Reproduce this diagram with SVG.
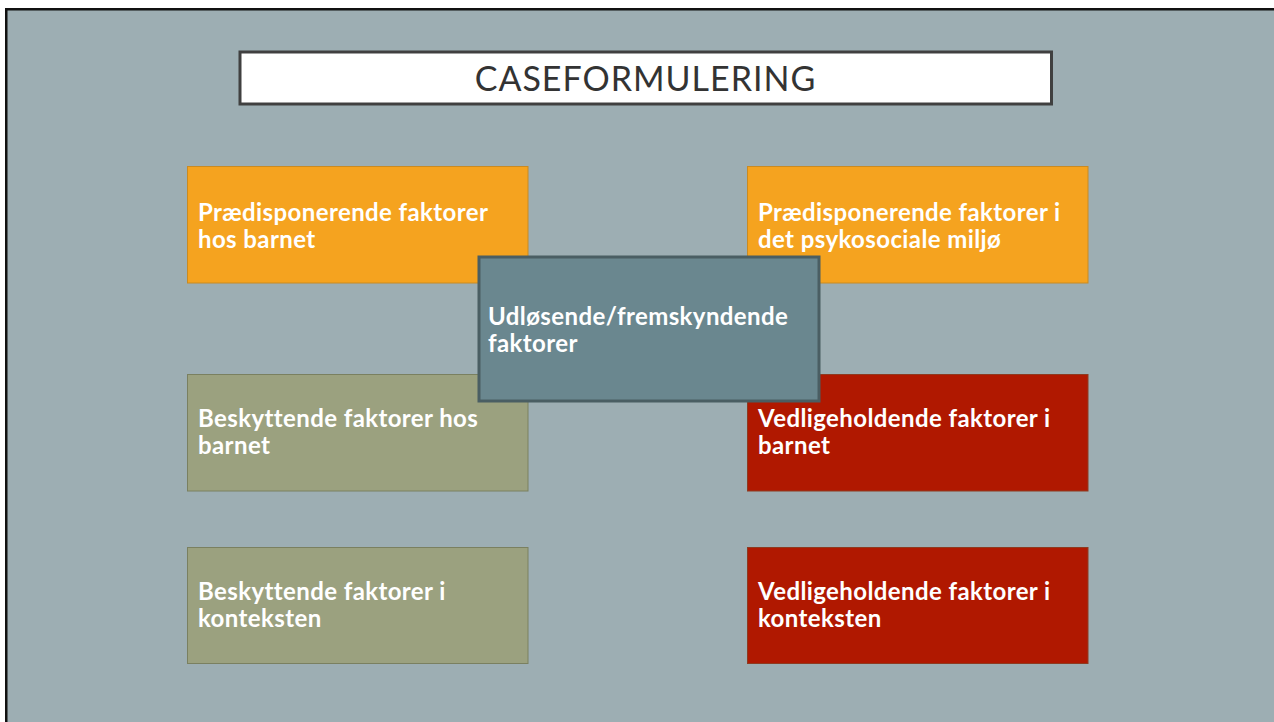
<svg xmlns="http://www.w3.org/2000/svg" width="1274" height="722" viewBox="0 0 1274 722">
<style>
.lbl{font-family:Lato,"Open Sans","Liberation Sans",sans-serif;font-weight:bold;font-size:24px;letter-spacing:0.4px;fill:#ffffff}
.orange{fill:#F5A31F;stroke:#C98A22;stroke-width:1}
.olive{fill:#9BA17F;stroke:#7A8060;stroke-width:1}
.red{fill:#B01800;stroke:#8E3A20;stroke-width:1}
</style>
<rect x="0" y="0" width="1274" height="722" fill="#ffffff"/>
<rect x="6.25" y="9.25" width="1280" height="730" fill="#9DAEB3" stroke="#111111" stroke-width="2.5"/>
<g id="title">
<rect x="240" y="52" width="811.5" height="52" fill="#ffffff" stroke="#404040" stroke-width="3"/>
<text x="645.5" y="90.5" text-anchor="middle" font-family="Lato,'Open Sans','Liberation Sans',sans-serif" font-size="34" fill="#333333" letter-spacing="1">CASEFORMULERING</text>
</g>
<g id="connectors"></g>
<g id="n-praed-barn">
<rect class="orange" x="187.5" y="166.5" width="340.5" height="116.5"/>
<text class="lbl" x="198" y="221">Prædisponerende faktorer</text>
<text class="lbl" x="198" y="248">hos barnet</text>
</g>
<g id="n-praed-miljo">
<rect class="orange" x="747.5" y="166.5" width="340.5" height="116.5"/>
<text class="lbl" x="758" y="221">Prædisponerende faktorer i</text>
<text class="lbl" x="758" y="248">det psykosociale miljø</text>
</g>
<g id="n-besk-barn">
<rect class="olive" x="187.5" y="374.5" width="340.5" height="116.5"/>
<text class="lbl" x="198" y="427">Beskyttende faktorer hos</text>
<text class="lbl" x="198" y="454">barnet</text>
</g>
<g id="n-vedl-barn">
<rect class="red" x="747.5" y="374.5" width="340.5" height="116.5"/>
<text class="lbl" x="758" y="427">Vedligeholdende faktorer i</text>
<text class="lbl" x="758" y="454">barnet</text>
</g>
<g id="n-besk-kontekst">
<rect class="olive" x="187.5" y="547.5" width="340.5" height="116"/>
<text class="lbl" x="198" y="600">Beskyttende faktorer i</text>
<text class="lbl" x="198" y="627">konteksten</text>
</g>
<g id="n-vedl-kontekst">
<rect class="red" x="747.5" y="547.5" width="340.5" height="116"/>
<text class="lbl" x="758" y="600">Vedligeholdende faktorer i</text>
<text class="lbl" x="758" y="627">konteksten</text>
</g>
<g id="n-udl">
<rect x="479" y="257" width="340" height="144" fill="#6A878F" stroke="#4A5E63" stroke-width="3"/>
<text class="lbl" x="488" y="325">Udløsende/fremskyndende</text>
<text class="lbl" x="488" y="352">faktorer</text>
</g>
</svg>
